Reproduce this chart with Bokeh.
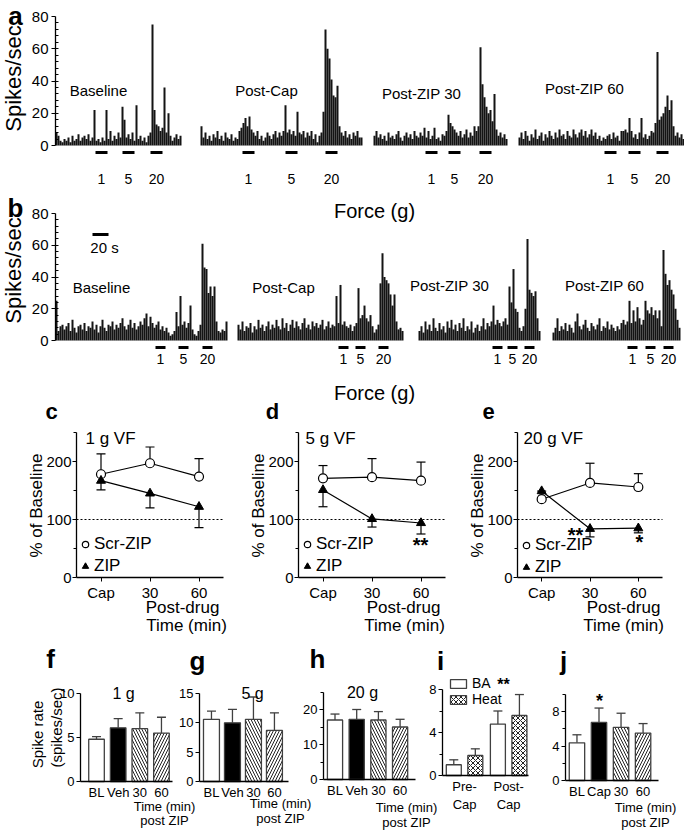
import math
from bokeh.plotting import figure
from bokeh.models import (Range1d, FixedTicker, Label, Legend, LegendItem, Whisker,
                          TeeHead, ColumnDataSource, LinearAxis)
from bokeh.core.properties import value
from bokeh.embed import file_html
from bokeh.resources import INLINE

FONT = "Liberation Sans"

# ---------------- data ----------------
trace_names = ["Baseline", "Post-Cap", "Post-ZIP 30", "Post-ZIP 60"]
force_labels = ["1", "5", "20"]
BIN_S = 2.5  # seconds per histogram bin

# panel a: spikes/sec per bin
a_baseline = [8,6,3,2,4, 3,5,2,6,3, 4,7,3,5,6, 4,7,3,5,22, 3,4,2,5,3, 22,4,9,3,6, 4,8,5,24,16,
              5,7,4,8,3, 25,4,6,3,5, 2,6,8,75,22, 13,12,9,11,36, 8,20,6,3,5, 7,4,6]
a_postcap = [12,5,8,4,6, 3,7,5,9,4, 6,3,8,5,4, 7,3,5,4,9, 11,14,17,12,18, 10,8,6,9,4, 6,3,5,8,6,
             4,7,9,5,8, 6,9,25,8,10, 7,9,6,21,8, 7,9,5,8,6, 9,4,7,2,6, 8,21,72,60,54, 41,31,30,37,12,
             8,6,9,5,7, 4,8,6,9,5, 5]
a_zip30 = [6,9,5,7,4, 6,3,8,5,6, 4,7,9,5,3, 6,8,5,7,4, 9,6,5,8,6, 11,5,9,4,6, 11,4,5,3,7,
           6,9,19,14,12, 10,8,6,9,5, 7,10,5,8,6, 12,9,12,61,38, 30,24,20,22,15, 32,10,6,8,5, 7,4]
a_zip60 = [5,8,4,9,6, 3,7,5,10,4, 6,8,3,7,5, 9,6,4,8,5, 10,6,7,4,9, 6,5,10,7,5, 8,10,6,9,5,
           7,10,6,8,4, 6,3,5,4,6, 7,4,8,5,6, 3,9,9,10,8, 17,9,5,7,4, 8,17,5,7,4, 6,9,8,14,58,
           16,18,20,24,31, 22,28,12,6,8, 5,7,4]
a_trace_start = [0, 181.25, 397.5, 578.75]          # s
a_stim_start = [[50, 83.75, 118.75], [52.5, 106.25, 156.25],
                [65, 93.75, 132.5], [107.5, 137.5, 172.5]]  # s from trace start
a_stim_dur = 15

# panel b
b_baseline = [25,6,9,10,7, 9,11,6,13,8, 5,9,10,7,11, 6,9,8,12,7, 10,5,9,13,8, 6,10,9,12,7,
              10,8,11,14,9, 7,10,13,8,11, 7,9,12,10,14, 17,9,15,11,8, 10,12,7,9,6, 8,5,3,4,6,
              18,9,28,10,12, 8,11,22,7,4, 3,6,10,61,46, 45,30,34,28,34, 12,6,5,7,6, 12]
b_postcap = [10,7,12,6,9, 8,11,5,9,7, 13,8,10,6,9, 12,7,10,8,13, 9,7,14,8,11, 6,10,13,8,12,
             9,7,11,14,8, 10,7,12,9,11, 8,10,13,7,9, 12,8,10,9,28, 11,35,10,12,9, 8,10,6,9,11,
             33,14,16,22,14, 12,16,9,5,7, 10,36,55,40,38, 36,29,22,29,12, 7,8,6]
b_zip30 = [6,9,5,12,7, 10,6,14,8,6, 11,7,9,5,12, 8,13,7,10,6, 11,8,14,6,9, 7,12,5,8,10,
           6,9,14,7,11, 9,12,22,10,13, 11,9,12,14,10, 34,24,45,20,18, 8,6,9,20,64, 32,30,28,31,14, 6]
b_zip60 = [5,8,14,6,9, 7,11,6,10,8, 5,12,17,9,7, 10,13,8,6,11, 9,7,10,14,6, 9,8,12,7,10,
           8,6,9,7,11, 13,10,12,25,11, 19,12,21,14,10, 13,25,19,17,21, 16,19,14,19,9,
           57,42,35,38,32, 29,20,13,8]
b_trace_start = [0, 227.5, 453.75, 621.25]
b_stim_start = [[125, 153.75, 183.75], [126.25, 147.5, 176.25],
                [92.5, 111.25, 132.5], [93.75, 116.25, 138.75]]
b_stim_dur = 12.5
scale_bar_s = 20

# panels c-e: % of baseline
time_cats = ["Cap", "30", "60"]
c_scr = [178, 197, 174]; c_scr_sem = [35, 28, 31]
c_zip = [167, 145, 122]; c_zip_sem = [16, 25, 36]
d_scr = [171, 173, 167]; d_scr_sem = [22, 32, 32]
d_zip = [151, 101, 94];  d_zip_sem = [29, 14, 19]
e_scr = [135, 163, 156]; e_scr_sem = [0, 34, 23]
e_zip = [149, 84, 85];   e_zip_sem = [0, 14, 8]

# panels f-j: spike rate
zip_cats = ["BL", "Veh", "30", "60"]
f_mean = [4.8, 6.1, 6.0, 5.5];   f_sem = [0.3, 1.05, 1.8, 1.8]
g_mean = [10.6, 10.0, 10.6, 8.7]; g_sem = [1.4, 2.3, 3.8, 3.0]
h_mean = [17.0, 17.2, 17.0, 15.0]; h_sem = [1.7, 2.8, 2.4, 2.2]
i_cats = ["Pre-\nCap", "Post-\nCap"]
i_ba = [1.0, 4.78];   i_ba_sem = [0.46, 1.22]
i_heat = [1.86, 5.58]; i_heat_sem = [0.62, 1.95]
j_cats = ["BL", "Cap", "30", "60"]
j_mean = [4.37, 6.73, 6.17, 5.5]; j_sem = [0.93, 1.67, 1.63, 1.1]

# ---------------- one page-sized figure, one range pair per panel ----------------
W, H = 684, 832
p = figure(width=W, height=H, x_range=Range1d(0, W), y_range=Range1d(0, H),
           output_backend="svg", toolbar_location=None, x_axis_location=None,
           y_axis_location=None, min_border=0, min_border_left=0, min_border_right=0,
           min_border_top=0, min_border_bottom=0)
p.outline_line_color = None
p.grid.visible = False

CAL = {}


def panel(name, xpx, xval, ypx, yval):
    """Register a panel: two pixel<->value pairs per dimension (y pixels grow downward)."""
    kx = (xpx[1] - xpx[0]) / (xval[1] - xval[0])
    ky = (ypx[0] - ypx[1]) / (yval[1] - yval[0])
    xs = xval[0] - xpx[0] / kx
    ys = yval[0] - (H - ypx[0]) / ky
    p.extra_x_ranges = {**p.extra_x_ranges, name: Range1d(xs, xs + W / kx)}
    p.extra_y_ranges = {**p.extra_y_ranges, name: Range1d(ys, ys + H / ky)}
    CAL[name] = (xval[0], xpx[0], kx, yval[0], ypx[0], ky)


def xv(name, px):
    v0, p0, k = CAL[name][0:3]
    return v0 + (px - p0) / k


def yv(name, py):
    v0, p0, k = CAL[name][3:6]
    return v0 + (p0 - py) / k


def R(name):
    return dict(x_range_name=name, y_range_name=name)


def txt(ax, ay, text, size, bold=False, align="center", angle=0.0):
    p.add_layout(Label(x=ax, y=H - ay, x_units="screen", y_units="screen",
                       text=text, text_font=FONT, text_font_size=f"{size}px",
                       text_font_style="bold" if bold else "normal",
                       text_align=align, text_baseline="middle", angle=angle,
                       text_color="black"))


def style_axis(ax, size):
    ax.axis_line_color = "black"
    ax.axis_line_width = 1.3
    ax.major_tick_line_color = "black"
    ax.minor_tick_line_color = "black"
    ax.major_label_text_font = FONT
    ax.major_label_text_font_size = f"{size}px"
    ax.major_label_text_color = "black"


def add_yaxis(name, loc, bounds, ticks, minor, size, tick_in_minor=False, standoff=2):
    ax = LinearAxis(fixed_location=loc, bounds=bounds,
                    ticker=FixedTicker(ticks=ticks, minor_ticks=minor), **R(name))
    style_axis(ax, size)
    ax.major_tick_out = 4; ax.major_tick_in = 0
    if tick_in_minor:
        ax.minor_tick_out = 0; ax.minor_tick_in = 3
    else:
        ax.minor_tick_out = 3; ax.minor_tick_in = 0
    ax.major_label_standoff = standoff
    p.add_layout(ax, "left")
    return ax


def add_xaxis(name, loc, bounds, cats, size, tick_out, standoff):
    ax = LinearAxis(fixed_location=loc, bounds=bounds,
                    ticker=FixedTicker(ticks=list(range(len(cats))), minor_ticks=[]), **R(name))
    style_axis(ax, size)
    ax.major_label_overrides = {i: c for i, c in enumerate(cats)}
    ax.major_tick_out = tick_out; ax.major_tick_in = 0
    ax.minor_tick_out = 0; ax.minor_tick_in = 0
    ax.major_label_standoff = standoff
    p.add_layout(ax, "below")
    return ax


# ---------------- rows a & b ----------------
XMAX = 629 * 1.25


def hist_panel(name, zero_px, top_px, traces, starts, stims, dur, stim_px, lab_px):
    panel(name, (55, 684), (0, XMAX), (zero_px, top_px), (0, 80))
    add_yaxis(name, 0, (0, 80), [0, 20, 40, 60, 80], list(range(4, 80, 4)), 15,
              tick_in_minor=True, standoff=3)
    stim_y = yv(name, stim_px)
    lab_y = yv(name, lab_px)
    for vals, t0, st in zip(traces, starts, stims):
        xs = [t0 + (i + 0.5) * BIN_S for i in range(len(vals))]
        p.vbar(x=xs, top=vals, bottom=0, width=BIN_S, fill_color="#141414", line_color=None,
               **R(name))
        x0 = [t0 + s for s in st]
        x1 = [t0 + s + dur for s in st]
        p.segment(x0=x0, y0=[stim_y] * 3, x1=x1, y1=[stim_y] * 3, line_color="black",
                  line_width=3, **R(name))
        p.text(x=[(a + b) / 2 for a, b in zip(x0, x1)], y=[lab_y] * 3, text=force_labels,
               text_font=value(FONT), text_font_size="14px", text_align="center",
               text_baseline="middle", text_color="black", **R(name))


hist_panel("a", 145, 16, [a_baseline, a_postcap, a_zip30, a_zip60], a_trace_start,
           a_stim_start, a_stim_dur, 152, 178)
txt(15, 15, "a", 26, bold=True)
txt(13, 78, "Spikes/sec", 22, angle=math.pi / 2)
for (cx, cy), name in zip([(98, 90), (266, 90), (421, 93), (584, 88)], trace_names):
    txt(cx, cy, name, 15)

hist_panel("b", 340, 213, [b_baseline, b_postcap, b_zip30, b_zip60], b_trace_start,
           b_stim_start, b_stim_dur, 347, 358)
txt(15, 207, "b", 26, bold=True)
txt(13, 270, "Spikes/sec", 22, angle=math.pi / 2)
for (cx, cy), name in zip([(101, 287), (283, 287), (449, 285), (604, 285)], trace_names):
    txt(cx, cy, name, 15)
txt(374, 210, "Force (g)", 20)
txt(374, 392, "Force (g)", 20)
sb_x0 = xv("b", 92)
sb_y = yv("b", 234)
p.segment(x0=[sb_x0], y0=[sb_y], x1=[sb_x0 + scale_bar_s], y1=[sb_y], line_color="black",
          line_width=3, **R("b"))
txt(104, 247, f"{scale_bar_s} s", 15)

# ---------------- row c-e ----------------
CX = (-0.5, 2.5)


def line_panel(name, x0px, x1px, scr, scr_sem, zp, zp_sem, leg_left, leg_bottom):
    panel(name, (x0px, x1px), CX, (577, 461), (0, 200))
    add_yaxis(name, CX[0], (0, 250), [0, 100, 200], [50, 150, 250], 15, standoff=1)
    add_xaxis(name, 0, CX, time_cats, 15, 4, 2)
    # dashed 100 % reference line across the axis extent
    p.segment(x0=[CX[0]], y0=[100], x1=[CX[1]], y1=[100], line_dash="2 2", line_color="black",
              line_width=1, **R(name))
    x = list(range(len(time_cats)))
    s_src = ColumnDataSource(dict(x=x, y=scr, up=[m + s for m, s in zip(scr, scr_sem)]))
    z_src = ColumnDataSource(dict(x=x, y=zp, lo=[m - s for m, s in zip(zp, zp_sem)]))
    p.add_layout(Whisker(base="x", lower="y", upper="up", source=s_src, level="underlay",
                         upper_head=TeeHead(size=9, line_width=1.2), lower_head=None,
                         line_width=1.2, line_color="black", **R(name)))
    p.add_layout(Whisker(base="x", lower="lo", upper="y", source=z_src, level="underlay",
                         lower_head=TeeHead(size=9, line_width=1.2), upper_head=None,
                         line_width=1.2, line_color="black", **R(name)))
    p.line(x="x", y="y", source=s_src, line_color="black", line_width=1.2, **R(name))
    p.line(x="x", y="y", source=z_src, line_color="black", line_width=1.2, **R(name))
    rs = p.scatter(x="x", y="y", source=s_src, marker="circle", size=9, fill_color="white",
                   line_color="black", line_width=1.2, **R(name))
    rz = p.scatter(x="x", y="y", source=z_src, marker="triangle", size=9, fill_color="black",
                   line_color="black", **R(name))
    leg = Legend(items=[LegendItem(label="Scr-ZIP", renderers=[rs]),
                        LegendItem(label="ZIP", renderers=[rz])],
                 location=(leg_left, H - leg_bottom), glyph_width=16, glyph_height=18,
                 label_standoff=1, spacing=2, padding=0, margin=0, border_line_color=None,
                 background_fill_alpha=0, label_text_font=FONT, label_text_font_size="17px",
                 label_text_color="black")
    p.add_layout(leg)


line_panel("c", 76, 223, c_scr, c_scr_sem, c_zip, c_zip_sem, 77, 576)
line_panel("d", 298, 445, d_scr, d_scr_sem, d_zip, d_zip_sem, 299, 576)
line_panel("e", 517, 662, e_scr, e_scr_sem, e_zip, e_zip_sem, 518, 577)
for lx, letter, ylx, vf, vfx, pdx, tmx in [(51, "c", 36, "1 g VF", 85, 182, 186),
                                          (272, "d", 258, "5 g VF", 305, 403, 404),
                                          (488, "e", 477, "20 g VF", 523, 623, 623)]:
    txt(lx, 411, letter, 22, bold=True)
    txt(ylx, 505, "% of Baseline", 17, angle=math.pi / 2)
    txt(vfx, 438, vf, 17, align="left")
    txt(pdx, 607, "Post-drug", 17)
    txt(tmx, 625, "Time (min)", 17)
txt(420, 544, "**", 20, bold=True)
txt(575, 534, "**", 20, bold=True)
txt(639, 541, "*", 20, bold=True)

# ---------------- row f-j ----------------
OUT = "#404040"


def bar_panel(name, xpx, xr, zero_px, ref_px, ref_val, bounds, ticks, minor, cats):
    panel(name, xpx, xr, (zero_px, ref_px), (0, ref_val))
    add_yaxis(name, xr[0], bounds, ticks, minor, 13, standoff=2)
    add_xaxis(name, 0, xr, cats, 13, 0, 3)


def bars(name, xs, means, sems, fills, hatches, width):
    src = ColumnDataSource(dict(x=xs, top=means, up=[m + s for m, s in zip(means, sems)],
                                fill=fills, hatch=hatches))
    r = p.vbar(x="x", top="top", bottom=0, width=width, source=src, fill_color="fill",
               hatch_pattern="hatch", hatch_color="#222222", hatch_scale=6, hatch_weight=1,
               line_color=OUT, line_width=1.3, **R(name))
    p.add_layout(Whisker(base="x", lower="top", upper="up", source=src, lower_head=None,
                         upper_head=TeeHead(size=9, line_width=1.3, line_color=OUT),
                         line_width=1.3, line_color=OUT, **R(name)))
    return r


zip_fill = ["white", "black", "white", "white"]
zip_hatch = [" ", " ", "\\", "/"]

bar_panel("f", (80, 172), (-0.74, 3.51), 781, 693, 10, (0, 10), [0, 5, 10], [], zip_cats)
bars("f", list(range(4)), f_mean, f_sem, zip_fill, zip_hatch, 0.72)
txt(50, 658, "f", 26, bold=True)
txt(37, 734, "Spike rate", 15, angle=math.pi / 2)
txt(56, 727, "(spikes/sec)", 15, angle=math.pi / 2)
txt(123, 693, "1 g", 16)
txt(164, 806, "Time (min)", 13)
txt(164, 820, "post ZIP", 13)

bar_panel("g", (199, 288), (-0.57, 3.67), 781, 693, 15, (0, 15), [0, 5, 10, 15], [], zip_cats)
bars("g", list(range(4)), g_mean, g_sem, zip_fill, zip_hatch, 0.76)
txt(197, 660, "g", 26, bold=True)
txt(252, 693, "5 g", 16)
txt(280, 803, "Time (min)", 13)
txt(280, 818, "post ZIP", 13)

bar_panel("h", (323, 415), (-0.53, 3.71), 779, 709, 20, (0, 25), [0, 10, 20], [5, 15, 25], zip_cats)
bars("h", list(range(4)), h_mean, h_sem, zip_fill, zip_hatch, 0.7)
txt(317, 658, "h", 26, bold=True)
txt(362, 692, "20 g", 16)
txt(406, 807, "Time (min)", 13)
txt(406, 822, "post ZIP", 13)

bar_panel("i", (442, 528), (-0.5, 1.45), 775, 689, 8, (0, 8), [0, 4, 8], [2, 6], i_cats)
off = 0.244
r_ba = bars("i", [k - off for k in range(2)], i_ba, i_ba_sem, ["white"] * 2, [" "] * 2, 0.34)
r_heat = bars("i", [k + off for k in range(2)], i_heat, i_heat_sem, ["white"] * 2, ["x"] * 2, 0.34)
r_heat.glyph.hatch_scale = 5
p.add_layout(Legend(items=[LegendItem(label="BA", renderers=[r_ba]),
                           LegendItem(label="Heat", renderers=[r_heat])],
                    location=(448, H - 707), glyph_width=20, glyph_height=11,
                    label_standoff=4, spacing=0, padding=0, margin=0, border_line_color=None,
                    background_fill_alpha=0, label_text_font=FONT, label_text_font_size="14px",
                    label_text_color="black"))
txt(440, 660, "i", 26, bold=True)
txt(503, 684, "**", 16, bold=True)

bar_panel("j", (565, 658), (-0.52, 3.7), 780, 711, 8, (0, 10), [0, 4, 8], [2, 6, 10], j_cats)
bars("j", list(range(4)), j_mean, j_sem, zip_fill, zip_hatch, 0.7)
txt(563, 660, "j", 26, bold=True)
txt(599, 700, "*", 18, bold=True)
txt(645, 807, "Time (min)", 13)
txt(645, 822, "post ZIP", 13)

open("out.html", "w").write(file_html(p, INLINE))
